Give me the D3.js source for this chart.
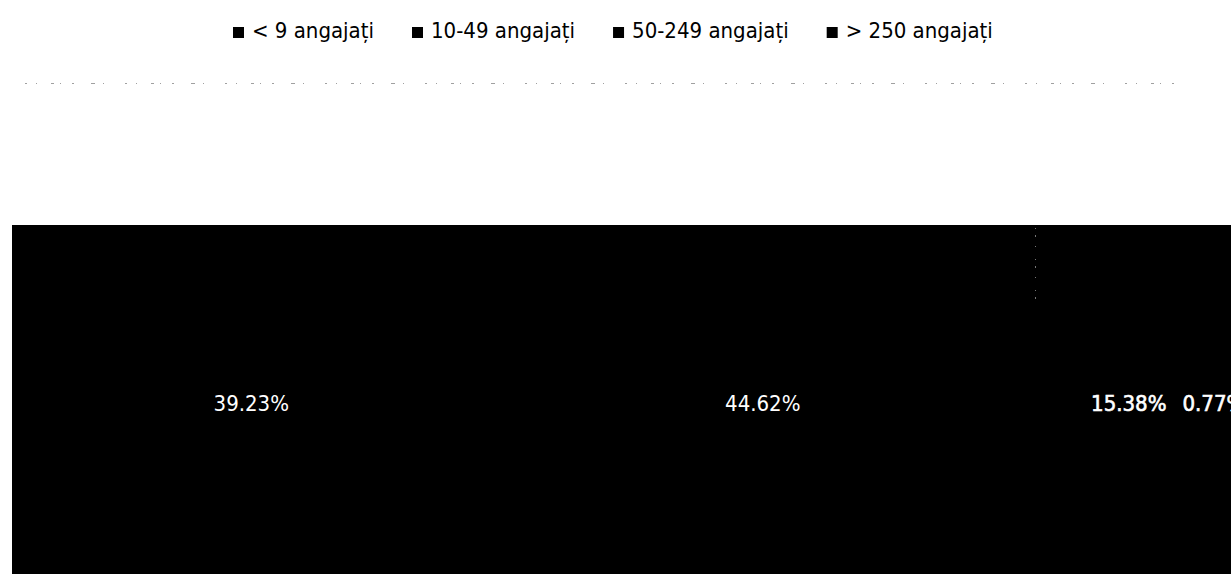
<!DOCTYPE html>
<html>
<head>
<meta charset="utf-8">
<script src="https://cdn.jsdelivr.net/npm/d3@7"></script>
<style>
  html, body { margin: 0; padding: 0; background: #fff; }
  svg { display: block; }
  text { font-family: "DejaVu Sans Condensed", "DejaVu Sans", Verdana, sans-serif; font-stretch: condensed; }
</style>
</head>
<body>
<svg id="chart" width="1231" height="574"></svg>
<script>
// Share of companies by number of employees (100% stacked bar)
const categories = ["< 9 angajați", "10-49 angajați", "50-249 angajați", "> 250 angajați"];
const shares = [39.23, 44.62, 15.38, 0.77];
const labels = ["39.23%", "44.62%", "15.38%", "0.77%"];
const colors = ["#000", "#000", "#000", "#000"];

const svg = d3.select("#chart");

// horizontal scale over the full 0–100 % span
const x = d3.scaleLinear().domain([0, 100]).range([12, 1232]);
const y = d3.scaleBand().domain(["total"]).range([225, 582]).padding(0);

// cumulative starts for stacking
const stack = d3.stack().keys(categories)([Object.fromEntries(categories.map((c, i) => [c, shares[i]]))]);

// faint dotted rule under the legend
svg.append("line")
  .attr("x1", 25).attr("x2", 1190)
  .attr("y1", 83.5).attr("y2", 83.5)
  .attr("stroke", "#a0a0a0")
  .attr("stroke-width", 1)
  .attr("stroke-dasharray", "2 9 1 14 3 6 1 11 2 17 4 8 1 21");

// bar segments
svg.append("g")
  .attr("shape-rendering", "crispEdges")
  .selectAll("rect")
  .data(stack)
  .join("rect")
  .attr("x", d => Math.round(x(d[0][0])))
  .attr("y", y("total"))
  .attr("width", d => Math.round(x(d[0][1])) - Math.round(x(d[0][0])) + 1)
  .attr("height", y.bandwidth())
  .attr("fill", (d, i) => colors[i]);

// faint boundary trace near the top of the third segment
svg.append("line")
  .attr("x1", Math.round(x(stack[2][0][0])) + 0.5).attr("x2", Math.round(x(stack[2][0][0])) + 0.5)
  .attr("y1", 228).attr("y2", 305)
  .attr("stroke", "#777")
  .attr("stroke-width", 1)
  .attr("stroke-dasharray", "1 6 2 9 1 12");

// value labels centred in each segment; a label wider than its
// segment is set just right of the preceding label
const labelG = svg.append("g");
let prevEnd = -Infinity;
stack.forEach((d, i) => {
  const t = labelG.append("text")
    .attr("y", y("total") + y.bandwidth() / 2)
    .attr("dy", "0.35em")
    .attr("font-size", 22)
    .attr("fill", "#fff")
    .attr("stroke", i >= 2 ? "#fff" : "none")
    .attr("stroke-width", 0.6)
    .text(labels[i]);
  const w = t.node().getComputedTextLength();
  const segW = x(d[0][1]) - x(d[0][0]);
  let start = (x(d[0][0]) + x(d[0][1])) / 2 - w / 2;
  if (w > segW) start = prevEnd + 16;
  t.attr("x", start);
  prevEnd = start + w;
});

// legend
const legend = svg.append("g").attr("transform", "translate(233,0)");
let cx = 0;
categories.forEach((c, i) => {
  const g = legend.append("g").attr("transform", `translate(${cx},0)`);
  g.append("rect").attr("x", 0).attr("y", 27).attr("width", 11).attr("height", 11).attr("fill", colors[i]);
  const t = g.append("text")
    .attr("x", 19).attr("y", 38)
    .attr("font-size", 22)
    .attr("fill", "#000")
    .text(c);
  cx += 19 + t.node().getComputedTextLength() + 38;
});
</script>
</body>
</html>
